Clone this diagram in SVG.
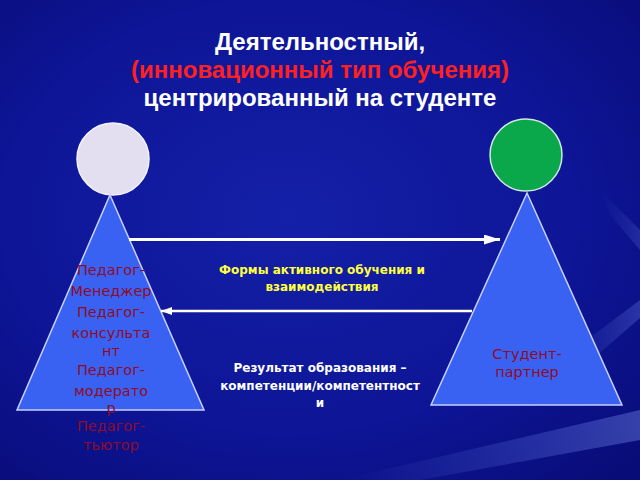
<svg xmlns="http://www.w3.org/2000/svg" width="640" height="480" viewBox="0 0 640 480">
<defs>
<radialGradient id="bg" cx="0.45" cy="0.45" r="0.75">
<stop offset="0" stop-color="#1420a8"/>
<stop offset="0.6" stop-color="#0e1596"/>
<stop offset="1" stop-color="#080c78"/>
</radialGradient>
<linearGradient id="streak" x1="0" y1="0" x2="1" y2="0">
<stop offset="0" stop-color="#6a80ff" stop-opacity="0"/>
<stop offset="1" stop-color="#8aa0ff" stop-opacity="0.35"/>
</linearGradient>
<marker id="ah1" viewBox="0 0 16 10" refX="16" refY="5" markerWidth="16" markerHeight="10" orient="auto" markerUnits="userSpaceOnUse">
<path d="M0,0 L16,5 L0,10 z" fill="#ffffff"/>
</marker>
<marker id="ah2" viewBox="0 0 11 8" refX="11" refY="4" markerWidth="11" markerHeight="8" orient="auto" markerUnits="userSpaceOnUse">
<path d="M0,0 L11,4 L0,8 z" fill="#ffffff"/>
</marker>
</defs>
<style>
.tri{fill:#3a62f2;stroke:#c8d0ff;stroke-width:1.5}
.title{font-family:"Liberation Sans",Arial,sans-serif;font-weight:bold;font-size:24px;text-anchor:middle}
.role{font-family:"DejaVu Sans","Noto Sans",sans-serif;font-size:14.5px;fill:#8e0c2a;text-anchor:middle}
.mid{font-family:"DejaVu Sans","Noto Sans",sans-serif;font-weight:bold;font-size:12px;text-anchor:middle}
.conn{stroke:#ffffff;fill:none}
</style>
<rect width="640" height="480" fill="url(#bg)"/>
<path d="M340,480 L640,410 L640,440 L420,480 z" fill="url(#streak)"/>
<path d="M560,360 L640,300 L640,318 L580,370 z" fill="url(#streak)" opacity="0.7"/>
<path d="M600,190 L640,230 L640,250 L610,215 z" fill="url(#streak)" opacity="0.5"/>
<g id="title">
<text class="title" x="320" y="50" fill="#ffffff">Деятельностный,</text>
<text class="title" x="320" y="78" fill="#ff2020">(инновационный тип обучения)</text>
<text class="title" x="320" y="106" fill="#ffffff">центрированный на студенте</text>
</g>
<g id="teacher">
<circle cx="113" cy="159" r="36" fill="#e4dff0" stroke="#f4f4ff" stroke-width="1.5"/>
<polygon class="tri" points="110,195 204,410 17,410"/>
<text class="role" x="111" y="275">Педагог-</text>
<text class="role" x="111" y="296">Менеджер</text>
<text class="role" x="111" y="317">Педагог-</text>
<text class="role" x="111" y="338">консульта</text>
<text class="role" x="111" y="356">нт</text>
<text class="role" x="111" y="375">Педагог-</text>
<text class="role" x="111" y="396">модерато</text>
<text class="role" x="111" y="413">р</text>
<text class="role" x="111" y="431">Педагог-</text>
<text class="role" x="111" y="450">тьютор</text>
</g>
<g id="student">
<circle cx="526" cy="155" r="36" fill="#0aa84a" stroke="#d0e8e0" stroke-width="1.5"/>
<polygon class="tri" points="527,193 622,405 431,405"/>
<text class="role" x="527" y="359">Студент-</text>
<text class="role" x="527" y="377">партнер</text>
</g>
<g id="connectors">
<line class="conn" stroke-width="3" x1="129" y1="239.5" x2="500" y2="239.5" marker-end="url(#ah1)"/>
<line class="conn" stroke-width="2.5" x1="472" y1="311" x2="161" y2="311" marker-end="url(#ah2)"/>
</g>
<g id="labels">
<text class="mid" x="322" y="274" fill="#ffff40">Формы активного обучения и</text>
<text class="mid" x="322" y="291" fill="#ffff40">взаимодействия</text>
<text class="mid" x="320" y="372" fill="#ffffff">Результат образования –</text>
<text class="mid" x="320" y="390" fill="#ffffff">компетенции/компетентност</text>
<text class="mid" x="320" y="407" fill="#ffffff">и</text>
</g>
</svg>
